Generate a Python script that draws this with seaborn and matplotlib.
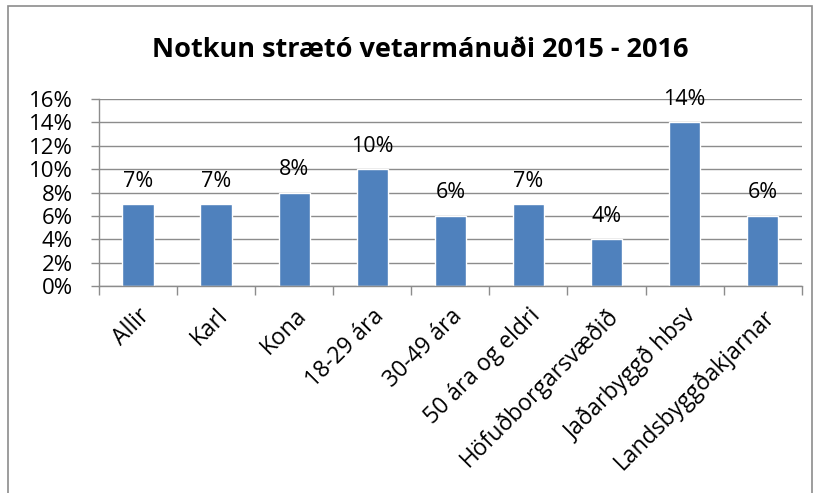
import numpy as np
import pandas as pd
import seaborn as sns
import matplotlib.pyplot as plt
from matplotlib.ticker import PercentFormatter, FixedLocator

categories = ["Allir", "Karl", "Kona", "18-29 ára", "30-49 ára", "50 ára og eldri",
              "Höfuðborgarsvæðið", "Jaðarbyggð hbsv", "Landsbyggðakjarnar"]
values = [7, 7, 8, 10, 6, 7, 4, 14, 6]

df = pd.DataFrame({"Hópur": categories, "Notkun": values})

sns.set_theme(style="white")
plt.rcParams["font.family"] = ["Open Sans", "DejaVu Sans"]

fig = plt.figure(figsize=(8.2, 4.93), dpi=100)
ax = fig.add_axes([0.1207, 0.42, 0.857, 0.379])

sns.barplot(data=df, x="Hópur", y="Notkun", color="#4F81BD", width=0.4,
            saturation=1, ax=ax)

for i, v in enumerate(values):
    ax.annotate(f"{v}%", (i, v), xytext=(0, 9), textcoords="offset points",
                ha="center", va="bottom", fontsize=15.5, color="black")

ax.set_ylim(0, 16)
ax.set_xlim(-0.5, len(categories) - 0.5)
ax.set_yticks(range(0, 17, 2))
ax.yaxis.set_major_formatter(PercentFormatter(decimals=0))
ax.yaxis.grid(True, color="#8c8c8c", linewidth=1)
ax.set_axisbelow(True)

# ticks between the categories, like Excel
ax.xaxis.set_minor_locator(FixedLocator(np.arange(-0.5, len(categories), 1)))
ax.tick_params(axis="x", which="major", length=0, pad=13, labelsize=16.5, labelcolor="black")
ax.tick_params(axis="x", which="minor", length=6.5, color="#8c8c8c", width=1, direction="out", bottom=True)
ax.tick_params(axis="y", length=6, color="#8c8c8c", width=1, direction="out", left=True,
               labelsize=16, labelcolor="black", pad=13)
plt.setp(ax.get_xticklabels(), rotation=45, ha="right", rotation_mode="anchor")

for side in ["top", "right"]:
    ax.spines[side].set_visible(False)
for side in ["left", "bottom"]:
    ax.spines[side].set_color("#8c8c8c")
    ax.spines[side].set_linewidth(1)

ax.set_xlabel("")
ax.set_ylabel("")
fig.text(0.512, 0.8844, "Notkun strætó vetarmánuði 2015 - 2016", ha="center", va="baseline",
         fontsize=19.5, fontweight="bold", color="black")

border = plt.Rectangle((0.01, -0.05), 0.98, 1.038, transform=fig.transFigure,
                       fill=False, edgecolor="#8c8c8c", linewidth=1.2)
fig.patches.append(border)

fig.savefig("out.png", dpi=100)
